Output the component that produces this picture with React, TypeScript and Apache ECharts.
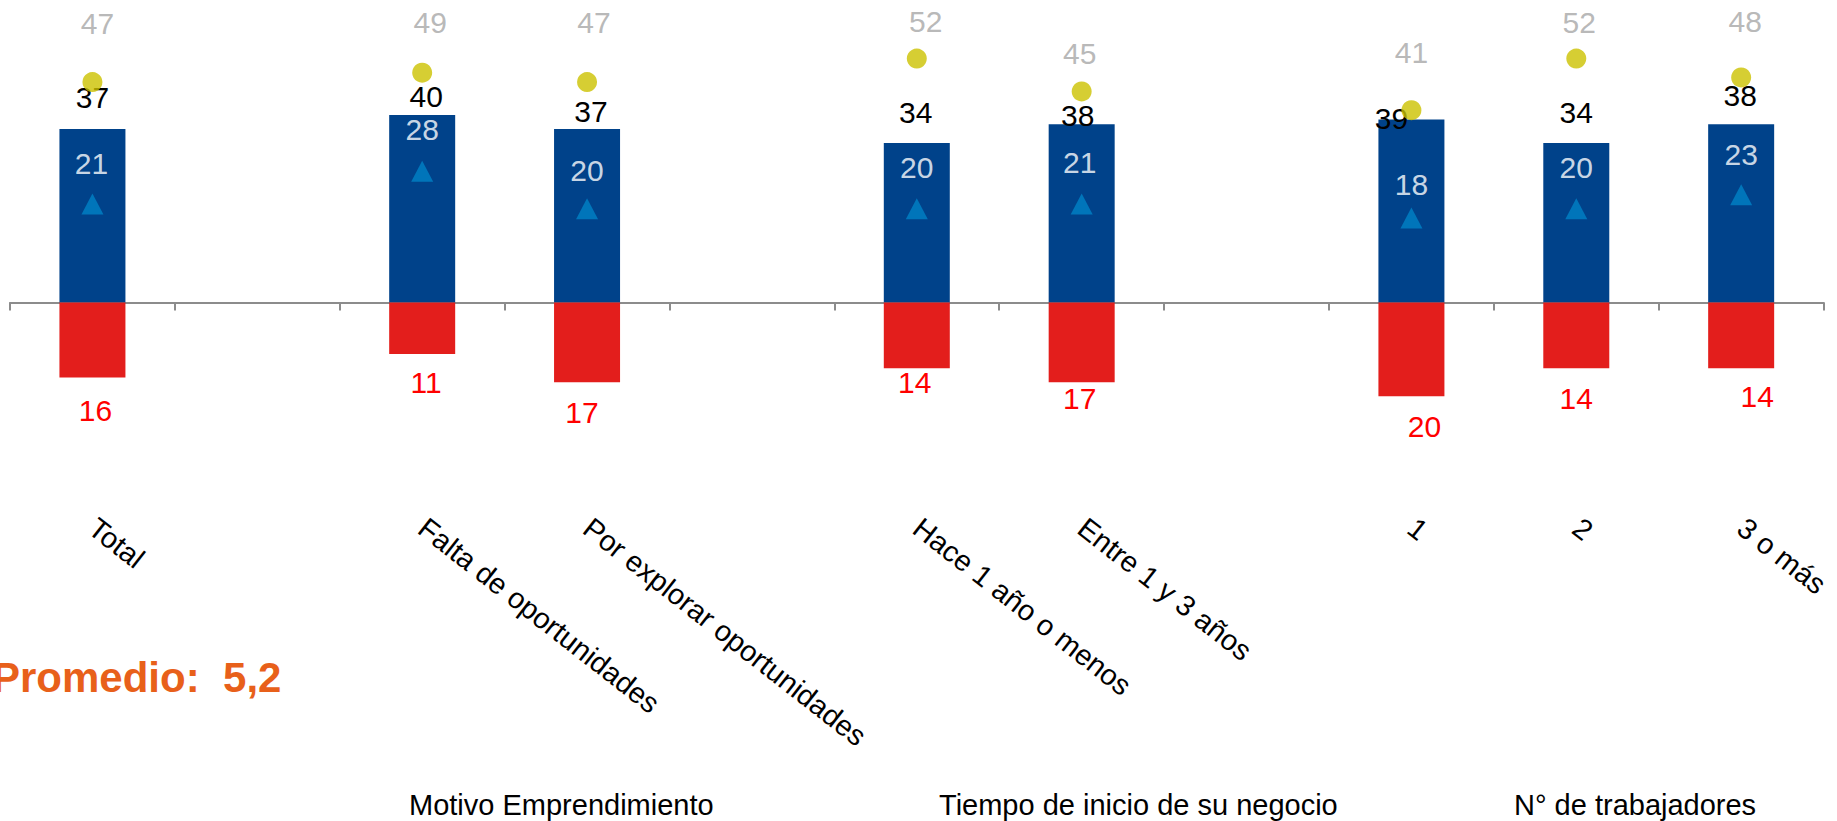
import React, { useEffect, useRef } from "react";
import * as echarts from "echarts";

// ---- Data ----
const categories = [
  "Total",
  "",
  "Falta de oportunidades",
  "Por explorar oportunidades",
  "",
  "Hace 1 año o menos",
  "Entre 1 y 3 años",
  "",
  "1",
  "2",
  "3 o más",
];
const blueValues = [37, null, 40, 37, null, 34, 38, null, 39, 34, 38];
const redValues = [-16, null, -11, -17, null, -14, -17, null, -20, -14, -14];
const triangleValues = [21, null, 28, 20, null, 20, 21, null, 18, 20, 23];
const circleValues = [47, null, 49, 47, null, 52, 45, null, 41, 52, 48];

const groupLabels = ["Motivo Emprendimiento", "Tiempo de inicio de su negocio", "N° de trabajadores"];
const averageText = "Promedio:  5,2";

// ---- Label nudges (layout only) ----
const blueLabelShift = [[0, -11], null, [4, 2], [4, 3], null, [-1, -11], [-4, 11], null, [-20, 19], [0, -11], [-1, -9]];
const redLabelShift = [[3, 13], null, [4, 8], [-5, 10], null, [-2, -6], [-2, -4], null, [13, 10], [0, 10], [16, 8]];
const triLabelShift = [[-1, -10], null, [0, -11], [0, -8], null, [0, -11], [-2, -11], null, [0, -3], [0, -11], [0, -10]];
const circleLabelShift = [[5, -29], null, [8, -20], [7, -30], null, [9, -7], [-2, -8], null, [0, -28], [3, -6], [4, -26]];

const FONT = '"Liberation Sans", Arial, Helvetica, sans-serif';

function withShift(values: (number | null)[], shifts: (number[] | null)[]) {
  return values.map((v, i) =>
    v === null ? null : { value: v, label: { offset: shifts[i] || [0, 0] } }
  );
}

export default function App() {
  const ref = useRef<HTMLDivElement>(null);

  useEffect(() => {
    if (!ref.current) return;
    const chart = echarts.init(ref.current, null, { renderer: "svg" });
    const labelBase = { fontSize: 30, fontFamily: FONT };

    chart.setOption({
      animation: false,
      backgroundColor: "#ffffff",
      grid: {
        left: 10,
        right: 13.4,
        top: 21.1,
        bottom: 377.8,
        containLabel: false,
        outerBoundsMode: "none",
      },
      xAxis: {
        type: "category",
        data: categories,
        boundaryGap: true,
        axisLine: { show: true, onZero: true, lineStyle: { color: "#8C8C8C", width: 2 } },
        axisTick: { show: true, length: 8, lineStyle: { color: "#8C8C8C", width: 2 } },
        axisLabel: {
          interval: 0,
          rotate: -38,
          margin: 81,
          fontSize: 29,
          color: "#000000",
          fontFamily: FONT,
        },
        splitLine: { show: false },
      },
      yAxis: {
        type: "value",
        min: -30,
        max: 60,
        show: false,
        splitLine: { show: false },
      },
      series: [
        {
          name: "Positivo",
          type: "bar",
          stack: "total",
          barWidth: 66,
          itemStyle: { color: "#00428A" },
          data: withShift(blueValues, blueLabelShift),
          label: { show: true, position: "top", distance: 5, color: "#000000", ...labelBase },
          z: 2,
        },
        {
          name: "Negativo",
          type: "bar",
          stack: "total",
          barWidth: 66,
          itemStyle: { color: "#E31E1C" },
          data: withShift(redValues, redLabelShift),
          label: {
            show: true,
            position: "bottom",
            distance: 5,
            color: "#FF0000",
            formatter: (p: any) => String(Math.abs(p.value)),
            ...labelBase,
          },
          z: 2,
        },
        {
          name: "Indicador",
          type: "scatter",
          symbol: "triangle",
          symbolSize: [22, 21],
          itemStyle: { color: "#0082C6" },
          data: withShift(triangleValues, triLabelShift),
          label: { show: true, position: "top", distance: 5, color: "#FFFFFF", ...labelBase },
          z: 3,
        },
        {
          name: "Referencia",
          type: "scatter",
          symbol: "circle",
          symbolSize: 20,
          itemStyle: { color: "#CCC200" },
          data: withShift(circleValues, circleLabelShift),
          label: { show: true, position: "top", distance: 5, color: "#A6A6A6", ...labelBase },
          z: 3,
        },
      ],
      graphic: [
        {
          type: "text",
          x: -8,
          y: 677,
          style: {
            text: averageText,
            fill: "#E8601A",
            fontSize: 42,
            fontWeight: "bold",
            fontFamily: FONT,
            verticalAlign: "middle",
            textVerticalAlign: "middle",
          },
        },
        {
          type: "text",
          x: 409,
          y: 805,
          style: {
            text: groupLabels[0],
            fill: "#000000",
            fontSize: 29,
            fontFamily: FONT,
            verticalAlign: "middle",
            textVerticalAlign: "middle",
          },
        },
        {
          type: "text",
          x: 939,
          y: 805,
          style: {
            text: groupLabels[1],
            fill: "#000000",
            fontSize: 29,
            fontFamily: FONT,
            verticalAlign: "middle",
            textVerticalAlign: "middle",
          },
        },
        {
          type: "text",
          x: 1514,
          y: 805,
          style: {
            text: groupLabels[2],
            fill: "#000000",
            fontSize: 29,
            fontFamily: FONT,
            verticalAlign: "middle",
            textVerticalAlign: "middle",
          },
        },
      ],
    });

    return () => {
      chart.dispose();
    };
  }, []);

  return (
    <div
      ref={ref}
      style={{ position: "fixed", left: 0, top: 0, width: "1837px", height: "821px", background: "#ffffff" }}
    />
  );
}
